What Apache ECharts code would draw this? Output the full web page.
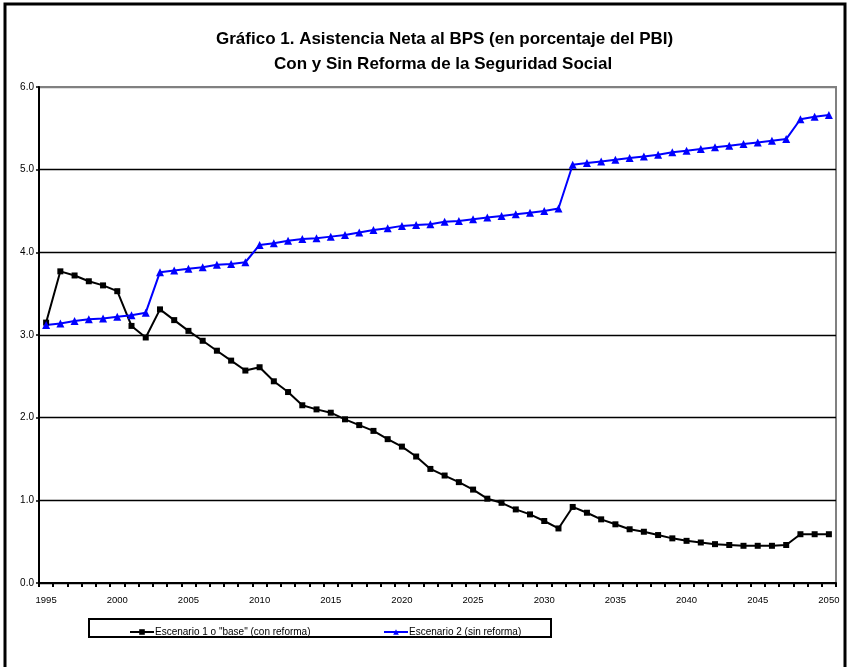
<!DOCTYPE html>
<html>
<head>
<meta charset="utf-8">
<script src="https://cdn.jsdelivr.net/npm/echarts@6/dist/echarts.min.js"></script>
<style>
  html, body { margin: 0; padding: 0; background: #fff; }
  #main { width: 849px; height: 667px; }
</style>
</head>
<body>
<div id="main"></div>
<script>
var years = [];
for (var y = 1995; y <= 2050; y++) { years.push(String(y)); }

var yTicks = ['0.0', '1.0', '2.0', '3.0', '4.0', '5.0', '6.0'];

// Escenario 1 o "base" (con reforma)
var conReforma = [
    3.15, 3.77, 3.72, 3.65, 3.60, 3.53, 3.11, 2.97, 3.31, 3.18,
    3.05, 2.93, 2.81, 2.69, 2.57, 2.61, 2.44, 2.31, 2.15, 2.10,
    2.06, 1.98, 1.91, 1.84, 1.74, 1.65, 1.53, 1.38, 1.30, 1.22,
    1.13, 1.02, 0.97, 0.89, 0.83, 0.75, 0.66, 0.92, 0.85, 0.77,
    0.71, 0.65, 0.62, 0.58, 0.54, 0.51, 0.49, 0.47, 0.46, 0.45,
    0.45, 0.45, 0.46, 0.59, 0.59, 0.59
];

// Escenario 2 (sin reforma)
var sinReforma = [
    3.12, 3.14, 3.17, 3.19, 3.20, 3.22, 3.24, 3.27, 3.76, 3.78,
    3.80, 3.82, 3.85, 3.86, 3.88, 4.09, 4.11, 4.14, 4.16, 4.17,
    4.19, 4.21, 4.24, 4.27, 4.29, 4.32, 4.33, 4.34, 4.37, 4.38,
    4.40, 4.42, 4.44, 4.46, 4.48, 4.50, 4.53, 5.06, 5.08, 5.10,
    5.12, 5.14, 5.16, 5.18, 5.21, 5.23, 5.25, 5.27, 5.29, 5.31,
    5.33, 5.35, 5.37, 5.61, 5.64, 5.66
];

var titulo1 = 'Gráfico 1. Asistencia Neta al BPS (en porcentaje del PBI)';
var titulo2 = 'Con y Sin Reforma de la Seguridad Social';
var nombre1 = 'Escenario 1 o "base" (con reforma)';
var nombre2 = 'Escenario 2 (sin reforma)';
var fuente = 'Arial, "Liberation Sans", sans-serif';

var myChart = echarts.init(document.getElementById('main'), null, { renderer: 'canvas' });

var estiloTitulo = {
    fontFamily: fuente,
    fontSize: 17,
    fontWeight: 'bold',
    color: '#000'
};

var option = {
    backgroundColor: '#fff',
    animation: false,
    title: [
        { text: titulo1, left: 216, top: 31, padding: 0, textStyle: estiloTitulo },
        { text: titulo2, left: 274, top: 56, padding: 0, textStyle: estiloTitulo }
    ],
    legend: [
        {
            data: [nombre1],
            left: 124,
            top: 622,
            itemWidth: 24,
            itemHeight: 7,
            itemGap: 0,
            textStyle: { fontFamily: fuente, fontSize: 10, color: '#000', padding: [0, 0, 0, -4] }
        },
        {
            data: [nombre2],
            left: 378,
            top: 622,
            itemWidth: 24,
            itemHeight: 7,
            itemGap: 0,
            textStyle: { fontFamily: fuente, fontSize: 10, color: '#000', padding: [0, 0, 0, -4] }
        }
    ],
    grid: {
        left: 39,
        right: 13,
        top: 87,
        bottom: 84,
        show: true,
        borderColor: '#808080',
        borderWidth: 2,
        backgroundColor: '#fff'
    },
    xAxis: {
        type: 'category',
        data: years,
        boundaryGap: true,
        axisLine: { lineStyle: { color: '#000', width: 2 } },
        axisTick: { show: true, interval: 0, length: 4, lineStyle: { color: '#000', width: 2 } },
        axisLabel: {
            interval: 4,
            fontFamily: fuente,
            fontSize: 9.5,
            color: '#000',
            margin: 12
        },
        splitLine: { show: false }
    },
    yAxis: {
        type: 'value',
        min: 0,
        max: 6,
        interval: 1,
        axisLine: { show: true, lineStyle: { color: '#000', width: 2 } },
        axisTick: { show: true, length: 3, lineStyle: { color: '#000', width: 1.5 } },
        axisLabel: {
            fontFamily: fuente,
            fontSize: 10,
            color: '#000',
            margin: 5,
            formatter: function (v) { return yTicks[Math.round(v)]; }
        },
        splitLine: {
            show: true,
            lineStyle: {
                color: ['#000', '#000', '#000', '#000', '#000', '#000', '#808080'],
                width: 1.3
            }
        }
    },
    series: [
        {
            name: nombre1,
            type: 'line',
            data: conReforma,
            symbol: 'rect',
            symbolSize: 6,
            showAllSymbol: true,
            itemStyle: { color: '#000' },
            lineStyle: { color: '#000', width: 2 }
        },
        {
            name: nombre2,
            type: 'line',
            data: sinReforma,
            symbol: 'triangle',
            symbolSize: 8,
            showAllSymbol: true,
            itemStyle: { color: '#0000ff' },
            lineStyle: { color: '#0000ff', width: 2 }
        }
    ],
    graphic: [
        {
            type: 'rect',
            shape: { x: 5, y: 4, width: 840, height: 720 },
            style: { fill: null, stroke: '#000', lineWidth: 3 },
            z: 100
        },
        {
            type: 'rect',
            shape: { x: 89, y: 619, width: 462, height: 18 },
            style: { fill: null, stroke: '#000', lineWidth: 2 },
            z: 100
        }
    ]
};

myChart.setOption(option);
</script>
</body>
</html>
